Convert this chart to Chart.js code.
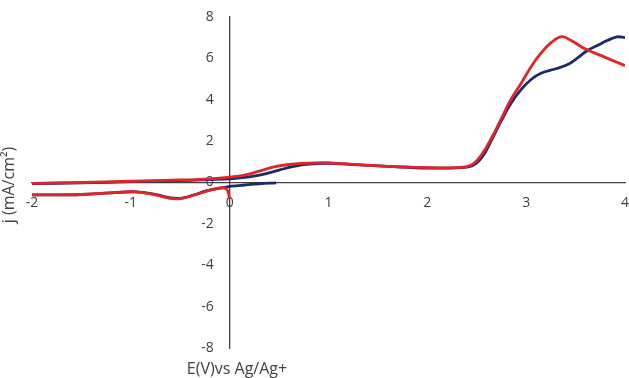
<!DOCTYPE html>
<html>
<head>
<meta charset="utf-8">
<script src="https://cdn.jsdelivr.net/npm/chart.js@4"></script>
<style>
  html, body { margin: 0; padding: 0; background: #ffffff; }
  #wrap { width: 629px; height: 378px; position: relative; }
</style>
</head>
<body>
<div id="wrap"><canvas id="cv" width="629" height="378"></canvas></div>
<script>
// Cyclic voltammograms: potential E (V vs Ag/Ag+) and current density j (mA/cm²).
// Each sweep: cathodic branch (toward -2 V), break, anodic branch (-2 V to 4 V).
const blueE = [0.47, 0.30, 0.15, 0.02, -0.05, -0.15, -0.25, -0.35, -0.48, -0.60, -0.75, -0.95, -1.20, -1.50, -1.80, -2.00,
  null,
  -2.00, -1.50, -1.00, -0.50, -0.20, 0.00, 0.20, 0.35, 0.50, 0.65, 0.80, 1.00, 1.30, 1.60, 2.00, 2.30, 2.45, 2.55, 2.65, 2.75, 2.85, 2.95, 3.05, 3.15, 3.30, 3.42, 3.52, 3.62, 3.72, 3.82, 3.92, 4.00];
const blueJ = [-0.02, -0.06, -0.12, -0.18, -0.24, -0.32, -0.42, -0.58, -0.75, -0.74, -0.58, -0.45, -0.50, -0.58, -0.60, -0.60,
  null,
  -0.05, -0.02, 0.04, 0.09, 0.14, 0.18, 0.27, 0.40, 0.60, 0.78, 0.89, 0.93, 0.85, 0.78, 0.70, 0.71, 0.80, 1.20, 2.05, 3.00, 3.85, 4.50, 4.98, 5.28, 5.50, 5.70, 6.02, 6.38, 6.62, 6.86, 7.04, 7.00];

const redE = [0.00, -0.03, -0.10, -0.23, -0.35, -0.50, -0.62, -0.75, -0.95, -1.20, -1.50, -1.80, -2.00,
  null,
  -2.00, -1.50, -1.00, -0.50, -0.20, 0.00, 0.15, 0.30, 0.45, 0.60, 0.80, 1.00, 1.30, 1.60, 2.00, 2.30, 2.45, 2.55, 2.65, 2.75, 2.85, 2.95, 3.05, 3.15, 3.25, 3.36, 3.46, 3.60, 3.80, 4.00];
const redJ = [-0.80, -0.32, -0.26, -0.42, -0.60, -0.78, -0.76, -0.60, -0.45, -0.50, -0.58, -0.60, -0.60,
  null,
  -0.04, 0.00, 0.06, 0.12, 0.18, 0.26, 0.36, 0.55, 0.75, 0.87, 0.94, 0.95, 0.86, 0.78, 0.72, 0.72, 0.86, 1.35, 2.15, 3.10, 4.05, 4.80, 5.60, 6.25, 6.75, 7.05, 6.85, 6.45, 6.05, 5.65];

const xTicks = [-2, -1, 0, 1, 2, 3, 4];
const yTicks = [-8, -6, -4, -2, 0, 2, 4, 6, 8];

const toPoints = (xs, ys) => xs.map((x, i) => ({ x: x, y: ys[i] }));
const noPadding = (s) => { s.paddingLeft = 0; s.paddingRight = 0; s.paddingTop = 0; s.paddingBottom = 0; };
const textColor = '#404040';

// The value axis crosses at E = 0; keep its labels a little left of the line
const yLabelGap = {
  id: 'yLabelGap',
  afterLayout(chart) {
    const items = chart.scales.y.getLabelItems(chart.chartArea);
    items.forEach(it => { it.options.translation[0] -= 16; });
  }
};

// Axis titles drawn outside the crossing axes
const axisTitles = {
  id: 'axisTitles',
  afterDraw(chart) {
    const ctx = chart.ctx;
    ctx.save();
    ctx.fillStyle = textColor;
    ctx.font = '16px "Open Sans", sans-serif';
    ctx.textAlign = 'center';
    ctx.textBaseline = 'middle';
    ctx.fillText('E(V)vs Ag/Ag+', 237, 369);
    ctx.translate(9, 185);
    ctx.rotate(-Math.PI / 2);
    ctx.fillText('j (mA/cm²)', 0, 0);
    ctx.restore();
  }
};

new Chart(document.getElementById('cv'), {
  type: 'scatter',
  data: {
    datasets: [
      {
        label: 'red',
        data: toPoints(redE, redJ),
        showLine: true,
        borderColor: '#e3232b',
        borderWidth: 2.8,
        pointRadius: 0,
        tension: 0.4,
        spanGaps: false,
        order: 0
      },
      {
        label: 'blue',
        data: toPoints(blueE, blueJ),
        showLine: true,
        borderColor: '#1d2a63',
        borderWidth: 2.8,
        pointRadius: 0,
        tension: 0.4,
        spanGaps: false,
        order: 1
      }
    ]
  },
  options: {
    responsive: false,
    animation: false,
    layout: { padding: { left: 32, right: 4, top: 17, bottom: 30 } },
    plugins: { legend: { display: false }, tooltip: { enabled: false } },
    scales: {
      x: {
        type: 'linear',
        position: { y: 0 },
        min: -2, max: 4,
        afterBuildTicks: (s) => { s.ticks = xTicks.map(v => ({ value: v })); },
        afterFit: noPadding,
        grid: { display: false, drawTicks: false },
        border: { display: true, color: '#404040', width: 1.3 },
        ticks: { color: textColor, font: { family: 'Open Sans', size: 14 }, padding: 12, autoSkip: false, maxRotation: 0 }
      },
      y: {
        type: 'linear',
        position: { x: 0 },
        min: -8, max: 8,
        afterBuildTicks: (s) => { s.ticks = yTicks.map(v => ({ value: v })); },
        afterFit: noPadding,
        grid: { display: false, drawTicks: false },
        border: { display: true, color: '#404040', width: 1.3 },
        ticks: { color: textColor, font: { family: 'Open Sans', size: 14 }, autoSkip: false }
      }
    }
  },
  plugins: [yLabelGap, axisTitles]
});
</script>
</body>
</html>
